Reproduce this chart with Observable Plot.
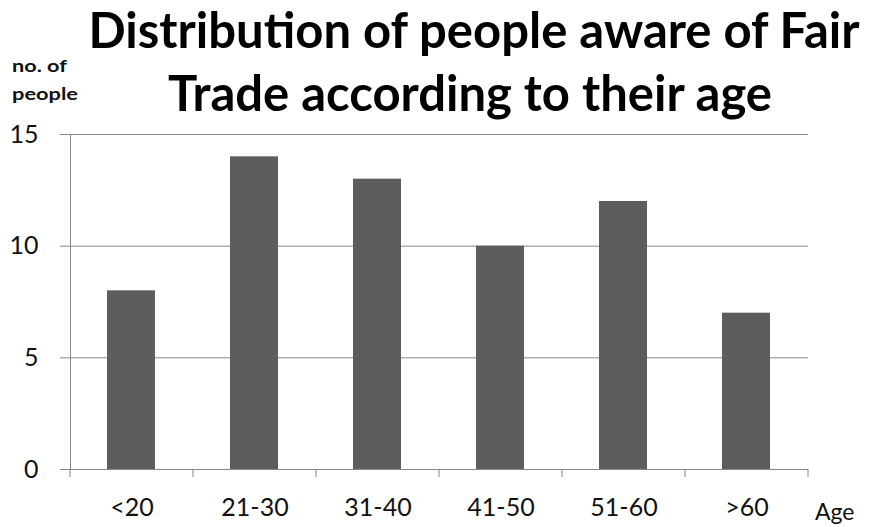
<!DOCTYPE html>
<html>
<head>
<meta charset="utf-8">
<script src="https://cdn.jsdelivr.net/npm/d3@7"></script>
<script src="https://cdn.jsdelivr.net/npm/@observablehq/plot@0.6"></script>
<style>
  body { margin: 0; background: #fff; }
  #chart { width: 872px; height: 527px; }
</style>
</head>
<body>
<div id="chart"></div>
<script>
// Age groups and number of people aware of Fair Trade in each
const ageGroups = ["<20", "21-30", "31-40", "41-50", "51-60", ">60"];
const counts = [8, 14, 13, 10, 12, 7];
const yTicks = [0, 5, 10, 15];

const titleLines = ["Distribution of people aware of Fair", "Trade according to their age"];
const yLabelLines = ["no. of", "people"];
const xLabel = "Age";

const rows = ageGroups.map((g, i) => ({age: g, count: counts[i]}));
const axisColor = "#878787";
const font = "Lato, 'Open Sans', sans-serif";

const plot = Plot.plot({
  width: 872,
  height: 527,
  marginTop: 134,
  marginLeft: 70,
  marginRight: 64,
  marginBottom: 58,
  style: {fontFamily: font, fontSize: "25px", color: "#000", background: "#fff", overflow: "visible"},
  x: {domain: ageGroups, padding: 0, label: null},
  y: {domain: [0, 15], label: null},
  marks: [
    Plot.gridY(yTicks.filter(d => d > 0), {stroke: axisColor, strokeOpacity: 1}),
    Plot.barY(rows, {x: "age", y: "count", fill: "#5d5d5d", insetLeft: 37, insetRight: 38}),
    Plot.ruleY([0], {stroke: axisColor}),
    Plot.frame({anchor: "left", stroke: axisColor}),
    Plot.axisY(yTicks, {tickSize: 10, tickPadding: 22, stroke: axisColor, fill: "#111", fontSize: 25}),
    Plot.axisX({tickSize: 0, tickPadding: 29, fill: "#111", fontSize: 25})
  ]
});

const svg = d3.select(plot);
const xs = plot.scale("x");
const ys = plot.scale("y");
const y0 = ys.range[0];

// Category boundary ticks below the x axis
d3.range(ageGroups.length + 1).forEach(i => {
  const x = xs.range[0] + i * xs.step;
  svg.append("line")
    .attr("x1", x).attr("x2", x)
    .attr("y1", y0).attr("y2", y0 + 8)
    .attr("stroke", axisColor);
});

// Two-line title
const title = svg.append("text")
  .attr("text-anchor", "middle")
  .attr("font-family", font)
  .attr("font-weight", "bold")
  .attr("font-size", 49)
  .attr("fill", "#000");
title.append("tspan").attr("x", 474).attr("y", 48).text(titleLines[0]);
title.append("tspan").attr("x", 470).attr("y", 111).text(titleLines[1]);

// Y axis caption, top left
yLabelLines.forEach((t, i) => {
  svg.append("text")
    .attr("x", 12).attr("y", 72 + i * 28)
    .attr("text-anchor", "start")
    .attr("font-family", font)
    .attr("font-weight", "bold")
    .attr("font-size", 17)
    .attr("textLength", i === 0 ? 55 : 66)
    .attr("lengthAdjust", "spacingAndGlyphs")
    .attr("fill", "#111")
    .text(t);
});

// X axis caption, bottom right
svg.append("text")
  .attr("x", 815).attr("y", 520)
  .attr("text-anchor", "start")
  .attr("font-family", font)
  .attr("font-size", 23)
  .attr("fill", "#111")
  .text(xLabel);

document.getElementById("chart").appendChild(plot);
</script>
</body>
</html>
